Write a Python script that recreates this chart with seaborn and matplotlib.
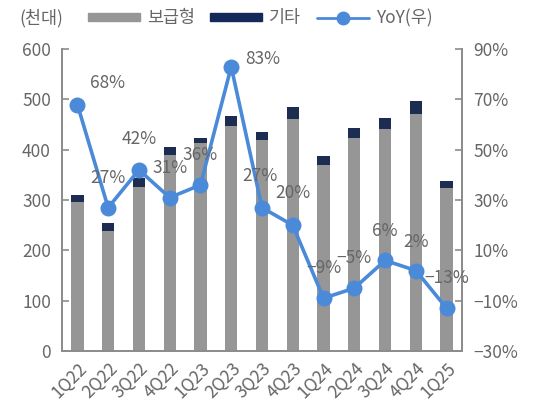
import matplotlib
matplotlib.use('Agg')
import matplotlib.pyplot as plt
import pandas as pd
import seaborn as sns
from matplotlib.lines import Line2D
from matplotlib.patches import Patch

quarters = ['1Q22', '2Q22', '3Q22', '4Q22', '1Q23', '2Q23', '3Q23', '4Q23',
            '1Q24', '2Q24', '3Q24', '4Q24', '1Q25']
entry = [296, 239, 326, 390, 413, 447, 420, 461, 370, 423, 441, 472, 325]
other = [14, 16, 18, 15, 10, 20, 15, 24, 17, 21, 22, 24, 12]
yoy = [68, 27, 42, 31, 36, 83, 27, 20, -9, -5, 6, 2, -13]
yoy_labels = ['68%', '27%', '42%', '31%', '36%', '83%', '27%', '20%',
              '\u22129%', '\u22125%', '6%', '2%', '\u221213%']
# label offsets in pixels (Excel placed two of them to the right)
label_off = [(30, 22), (0, 30), (0, 31), (0, 30), (0, 30), (32, 8), (-2, 32), (0, 32),
             (0, 30), (0, 30), (0, 29), (0, 29), (0, 30)]

c_entry = '#969696'
c_other = '#14295a'
c_line = '#4a8ad8'
c_text = '#666666'
c_spine = '#8c8c8c'
fs = 12.5

sns.set_style('white')
plt.rcParams['font.family'] = ['Noto Sans CJK KR', 'DejaVu Sans']
plt.rcParams['axes.unicode_minus'] = True

df = pd.DataFrame({'quarter': quarters, 'entry': entry, 'other': other, 'yoy': yoy})
df['total'] = df['entry'] + df['other']

fig = plt.figure(figsize=(5.42, 4.03), dpi=100)
ax = fig.add_axes([0.1144, 0.129, 0.738, 0.749])

sns.barplot(data=df, x='quarter', y='total', color=c_other, width=0.4,
            edgecolor='none', ax=ax, zorder=2)
sns.barplot(data=df, x='quarter', y='entry', color=c_entry, width=0.4,
            edgecolor='none', ax=ax, zorder=3)
ax.set_ylim(0, 600)
ax.set_yticks(range(0, 601, 100))
ax.set_xlim(-0.5, len(quarters) - 0.5)
ax.set_xlabel('')
ax.set_ylabel('')

ax2 = ax.twinx()
ax2.set_position(ax.get_position())
sns.lineplot(x=range(len(quarters)), y=yoy, ax=ax2, color=c_line, linewidth=2.6,
             marker='o', markersize=11.5, markeredgewidth=0, zorder=5)
ax2.set_ylim(-30, 90)
ax2.set_yticks(range(-30, 91, 20))
ax2.set_yticklabels([f'{v}%'.replace('-', '\u2212') for v in range(-30, 91, 20)])
ax2.set_xlim(-0.5, len(quarters) - 0.5)

for i, (v, t) in enumerate(zip(yoy, yoy_labels)):
    ax2.annotate(t, (i, v), xytext=label_off[i], textcoords='offset pixels',
                 ha='center', va='center', fontsize=fs, color=c_text, zorder=6)

# axes styling
for a in (ax, ax2):
    a.spines['top'].set_visible(False)
    for s in ['left', 'right', 'bottom']:
        a.spines[s].set_color(c_spine)
        a.spines[s].set_linewidth(1.3)

ax.set_xticks(range(len(quarters)))
ax.set_xticklabels(quarters, rotation=45, ha='right', rotation_mode='anchor')
ax.tick_params(axis='x', length=0, labelsize=fs, labelcolor=c_text, pad=6)
ax.set_xticks([i + 0.5 for i in range(len(quarters) - 1)], minor=True)
ax.tick_params(axis='x', which='minor', direction='in', length=4, color=c_spine, width=1.2)
ax.tick_params(axis='y', direction='in', length=5, color=c_spine, width=1.2,
               labelsize=fs, labelcolor=c_text, pad=8, left=True)
ax2.tick_params(axis='y', direction='in', length=5, color=c_spine, width=1.2,
                labelsize=fs, labelcolor=c_text, pad=8, right=True)

# legend and unit
fig.text(0.035, 0.955, '(천대)', fontsize=fs, color=c_text, ha='left', va='center')
handles = [Patch(color=c_entry), Patch(color=c_other),
           Line2D([], [], color=c_line, linewidth=2, marker='o', markersize=9)]
fig.legend(handles, ['보급형', '기타', 'YoY(우)'], loc='center', ncol=3,
           bbox_to_anchor=(0.48, 0.955), frameon=False, fontsize=fs,
           labelcolor=c_text, handlelength=3.0, handleheight=0.35,
           handletextpad=0.4, columnspacing=0.9)

fig.savefig('out.png', dpi=100)
